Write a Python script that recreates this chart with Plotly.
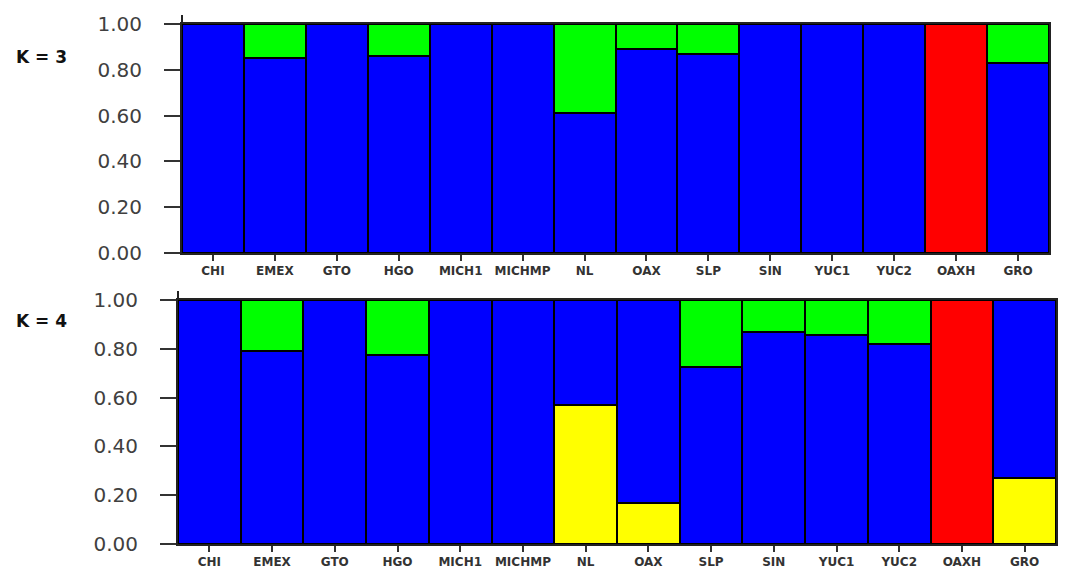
"""Stacked ancestry proportions for K = 3 and K = 4 by population."""

import plotly.graph_objects as go
from plotly.subplots import make_subplots

populations = ["CHI", "EMEX", "GTO", "HGO", "MICH1", "MICHMP", "NL",
               "OAX", "SLP", "SIN", "YUC1", "YUC2", "OAXH", "GRO"]

# K = 3
k3_blue = [1.0, 0.85, 1.0, 0.86, 1.0, 1.0, 0.61, 0.89, 0.87, 1.0, 1.0, 1.0, None, 0.83]
k3_green = [None, 0.15, None, 0.14, None, None, 0.39, 0.11, 0.13, None, None, None, None, 0.17]
k3_red = [None] * 12 + [1.0, None]

# K = 4
k4_yellow = [None, None, None, None, None, None, 0.57, 0.17, None, None, None, None, None, 0.27]
k4_blue = [1.0, 0.79, 1.0, 0.775, 1.0, 1.0, 0.43, 0.83, 0.725, 0.87, 0.855, 0.82, None, 0.73]
k4_green = [None, 0.21, None, 0.225, None, None, None, None, 0.275, 0.13, 0.145, 0.18, None, None]
k4_red = [None] * 12 + [1.0, None]

y_ticks = [0.0, 0.2, 0.4, 0.6, 0.8, 1.0]
panel_labels = ["K = 3", "K = 4"]

BLUE = "#0000FF"
GREEN = "#00FF00"
YELLOW = "#FFFF00"
RED = "#FF0000"

W, H = 1066, 579
OFF = 8  # page body margin in the screenshot


def px(x):
    return (x - OFF) / W


def py(y):
    return 1 - (y - OFF) / H


fig = make_subplots(rows=2, cols=1)


def add_stack(row, layers):
    for values, color in layers:
        fig.add_trace(
            go.Bar(
                x=populations,
                y=values,
                marker=dict(color=color, line=dict(color="#000000", width=2.5)),
                showlegend=False,
            ),
            row=row,
            col=1,
        )


add_stack(1, [(k3_blue, BLUE), (k3_green, GREEN), (k3_red, RED)])
add_stack(2, [(k4_yellow, YELLOW), (k4_blue, BLUE), (k4_green, GREEN), (k4_red, RED)])

# screen pixel boxes: (left, right, top, bottom)
boxes = {1: (182, 1049, 24, 253), 2: (178, 1056, 300, 544)}

for row in (1, 2):
    l, r, t, b = boxes[row]
    xa = "xaxis" if row == 1 else "xaxis2"
    ya = "yaxis" if row == 1 else "yaxis2"
    fig.layout[xa].update(
        domain=[px(l), px(r)],
        automargin=False,
        showline=True,
        linecolor="#222222",
        linewidth=2,
        mirror=True,
        ticks="outside",
        ticklen=6,
        tickwidth=2,
        tickcolor="#333333",
        tickfont=dict(family="DejaVu Sans", size=12, color="#333333", weight="bold"),
        showgrid=False,
        fixedrange=True,
    )
    fig.layout[ya].update(
        domain=[py(b), py(t)],
        automargin=False,
        range=[0, 1.0],
        tickvals=y_ticks,
        tickformat=".2f",
        showline=True,
        linecolor="#222222",
        linewidth=2,
        mirror=True,
        ticks="outside",
        ticklen=16,
        tickwidth=2,
        tickcolor="#333333",
        ticklabelstandoff=18,
        tickfont=dict(family="DejaVu Sans", size=20, color="#404040"),
        showgrid=False,
        zeroline=False,
    )
    # left axis line runs a little above 1.00
    fig.add_shape(
        type="line",
        xref="paper",
        yref="paper",
        x0=px(l),
        x1=px(l),
        y0=py(t),
        y1=py(t - 9),
        line=dict(color="#222222", width=2),
    )

label_y = {1: 57, 2: 321}
for row, label in zip((1, 2), panel_labels):
    fig.add_annotation(
        text=label,
        xref="paper",
        yref="paper",
        x=px(14),
        y=py(label_y[row]),
        xanchor="left",
        yanchor="middle",
        showarrow=False,
        font=dict(family="DejaVu Sans", size=17, color="#111111", weight="bold"),
    )

fig.update_layout(
    barmode="stack",
    bargap=0,
    width=W,
    height=H,
    margin=dict(l=0, r=0, t=0, b=0),
    plot_bgcolor="white",
    paper_bgcolor="white",
)

fig.write_html("out.html")
